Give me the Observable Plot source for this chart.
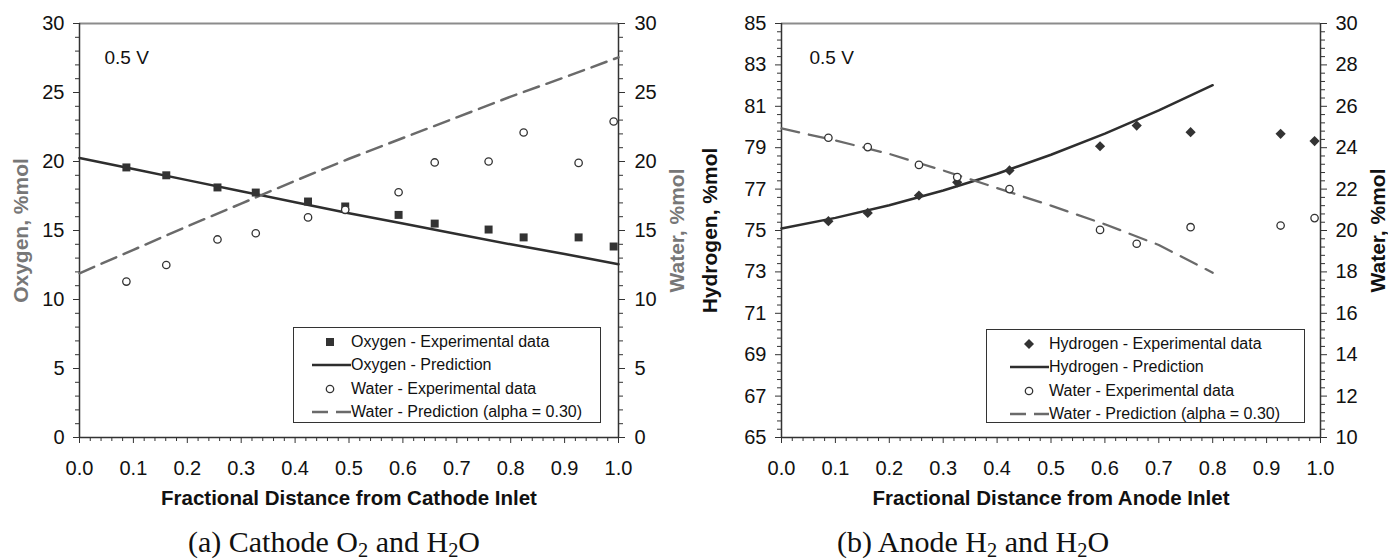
<!DOCTYPE html>
<html><head><meta charset="utf-8">
<script src="https://cdn.jsdelivr.net/npm/d3@7"></script>
<script src="https://cdn.jsdelivr.net/npm/@observablehq/plot@0.6"></script>
<style>
body{margin:0;background:#fff;width:1388px;height:560px;position:relative;overflow:hidden;font-family:"Liberation Sans",Arial,sans-serif}
.panel{position:absolute;top:0}
.caption{position:absolute;font-family:"Liberation Serif","Times New Roman",serif;font-size:30px;line-height:30px;color:#111;white-space:nowrap}
.caption sub{font-size:68%;vertical-align:-0.25em;line-height:0}
.legend{position:absolute;border:1.5px solid #333;background:#fff;box-sizing:border-box}
.legend .row{position:absolute;left:0;height:22px;width:100%}
.legend .row svg{position:absolute;left:0;top:0}
.legend .row span{position:absolute;font-size:16px;line-height:22px;color:#111;white-space:nowrap}
</style></head>
<body>
<div id="a" class="panel" style="left:0"></div>
<div id="b" class="panel" style="left:694px"></div>
<div class="caption" style="left:188px;top:527px">(a) Cathode O<sub>2</sub> and H<sub>2</sub>O</div>
<div class="caption" style="left:837px;top:527px">(b) Anode H<sub>2</sub> and H<sub>2</sub>O</div>
<script>
// ---------- Panel (a) data: Cathode ----------
const xExpA = [0.087, 0.161, 0.256, 0.327, 0.424, 0.493, 0.592, 0.659, 0.759, 0.824, 0.926, 0.991];
const oxygenExp = [19.57, 19.0, 18.12, 17.75, 17.1, 16.74, 16.13, 15.5, 15.07, 14.5, 14.5, 13.84];
const waterExpA = [11.3, 12.5, 14.35, 14.8, 15.95, 16.5, 17.77, 19.93, 20.0, 22.1, 19.9, 22.9];
const xPredA = [0, 0.1, 0.2, 0.3, 0.4, 0.5, 0.6, 0.7, 0.8, 0.9, 1.0];
const oxygenPred = [20.25, 19.45, 18.65, 17.85, 17.05, 16.25, 15.5, 14.75, 14.0, 13.3, 12.55];
const waterPredA = [11.9, 13.6, 15.3, 16.95, 18.6, 20.2, 21.7, 23.2, 24.7, 26.1, 27.55];

// ---------- Panel (b) data: Anode ----------
const xExpB = [0.087, 0.160, 0.255, 0.326, 0.423, 0.591, 0.659, 0.759, 0.926, 0.989];
const hydrogenExp = [75.45, 75.85, 76.69, 77.33, 77.9, 79.07, 80.07, 79.75, 79.67, 79.32];
const waterExpB = [24.48, 24.03, 23.17, 22.58, 22.0, 20.03, 19.36, 20.16, 20.24, 20.6];
const xPredB = [0, 0.1, 0.2, 0.3, 0.4, 0.5, 0.6, 0.7, 0.8];
const hydrogenPred = [75.1, 75.61, 76.22, 76.93, 77.74, 78.66, 79.68, 80.8, 82.02];
const waterPredB = [24.93, 24.35, 23.7, 22.9, 22.05, 21.2, 20.3, 19.3, 17.96];

// ---------- Tick labels ----------
const xTicks = [0, 0.1, 0.2, 0.3, 0.4, 0.5, 0.6, 0.7, 0.8, 0.9, 1.0];
const yTicksA = [0, 5, 10, 15, 20, 25, 30];
const yLeftTicksB = [65, 67, 69, 71, 73, 75, 77, 79, 81, 83, 85];
const yRightTicksB = [10, 12, 14, 16, 18, 20, 22, 24, 26, 28, 30];
const waterOffsetB = 55; // right axis 10–30 maps onto left axis 65–85

const legendA = ["Oxygen - Experimental data", "Oxygen - Prediction", "Water - Experimental data", "Water - Prediction (alpha = 0.30)"];
const legendB = ["Hydrogen - Experimental data", "Hydrogen - Prediction", "Water - Experimental data", "Water - Prediction (alpha = 0.30)"];

function minor(from, to, step, majors) {
  return d3.range(from, to + step / 2, step).filter(v => !majors.some(m => Math.abs(m - v) < 1e-6));
}
const xMinor = minor(0, 1, 0.02, xTicks);

const DARK = "#2e2e2e", GREY = "#6a6a6a", AXIS = "#333";
const TICKFONT = 20;
const style = {fontFamily: "'Liberation Sans', Arial, sans-serif", fontSize: "20px", color: "#111", background: "#fff", overflow: "visible"};

function frameMarks(yMin, yMax) {
  return [
    Plot.ruleY([yMax], {stroke: "#8c8c8c", strokeWidth: 2}),
    Plot.ruleX([0], {stroke: AXIS, strokeWidth: 1.5}),
    Plot.ruleX([1], {stroke: AXIS, strokeWidth: 1.5}),
    Plot.ruleY([yMin], {stroke: AXIS, strokeWidth: 1.5}),
    Plot.axisX({ticks: xTicks, tickSize: 6, tickPadding: 17, tickFormat: d => d.toFixed(1), label: null, stroke: AXIS, fontSize: TICKFONT}),
    Plot.axisX({ticks: xMinor, tickSize: 4, tickFormat: () => "", label: null, stroke: AXIS})
  ];
}

// ---------- Panel (a) ----------
const expA = xExpA.map((x, i) => ({x, o: oxygenExp[i], w: waterExpA[i]}));
const predA = xPredA.map((x, i) => ({x, o: oxygenPred[i], w: waterPredA[i]}));
const yMinorA = minor(0, 30, 1, yTicksA);

const plotA = Plot.plot({
  width: 694, height: 520,
  marginLeft: 79, marginRight: 76, marginTop: 23, marginBottom: 83,
  x: {domain: [0, 1]},
  y: {domain: [0, 30]},
  style,
  marks: [
    ...frameMarks(0, 30),
    Plot.axisY({anchor: "left", ticks: yTicksA, tickSize: 6, tickPadding: 9, label: null, stroke: AXIS, fontSize: TICKFONT}),
    Plot.axisY({anchor: "left", ticks: yMinorA, tickSize: 4, tickFormat: () => "", label: null, stroke: AXIS}),
    Plot.axisY({anchor: "right", ticks: yTicksA, tickSize: 6, tickPadding: 10, label: null, stroke: AXIS, fontSize: TICKFONT}),
    Plot.axisY({anchor: "right", ticks: yMinorA, tickSize: 4, tickFormat: () => "", label: null, stroke: AXIS}),
    Plot.line(predA, {x: "x", y: "o", stroke: DARK, strokeWidth: 2.5}),
    Plot.line(predA, {x: "x", y: "w", stroke: GREY, strokeWidth: 2.5, strokeDasharray: "16,8"}),
    Plot.dot(expA, {x: "x", y: "o", symbol: "square", fill: "#333", r: 4.5}),
    Plot.dot(expA, {x: "x", y: "w", symbol: "circle", fill: "#fff", stroke: "#333", strokeWidth: 1.3, r: 3.7}),
    Plot.text(["0.5 V"], {text: d => d, frameAnchor: "top-left", dx: 25, dy: 27, fontSize: 19, fill: "#111"}),
    Plot.text(["Oxygen, %mol"], {text: d => d, frameAnchor: "left", textAnchor: "middle", dx: -58, rotate: -90, fontSize: 21, fontWeight: "bold", fill: "#777"}),
    Plot.text(["Water, %mol"], {text: d => d, frameAnchor: "right", textAnchor: "middle", dx: 59, rotate: -90, fontSize: 21, fontWeight: "bold", fill: "#777"}),
    Plot.text(["Fractional Distance from Cathode Inlet"], {text: d => d, frameAnchor: "bottom", dy: 67, fontSize: 20.5, fontWeight: "bold", fill: "#111"})
  ]
});
document.getElementById("a").append(plotA);

// ---------- Panel (b) ----------
const expB = xExpB.map((x, i) => ({x, h: hydrogenExp[i], w: waterExpB[i]}));
const predB = xPredB.map((x, i) => ({x, h: hydrogenPred[i], w: waterPredB[i]}));
const yMinorB = minor(65, 85, 0.4, yLeftTicksB);

const plotB = Plot.plot({
  width: 694, height: 520,
  marginLeft: 87, marginRight: 68, marginTop: 23, marginBottom: 83,
  x: {domain: [0, 1]},
  y: {domain: [65, 85]},
  style,
  marks: [
    ...frameMarks(65, 85),
    Plot.axisY({anchor: "left", ticks: yLeftTicksB, tickSize: 6, tickPadding: 9, label: null, stroke: AXIS, fontSize: TICKFONT}),
    Plot.axisY({anchor: "left", ticks: yMinorB, tickSize: 4, tickFormat: () => "", label: null, stroke: AXIS}),
    Plot.axisY({anchor: "right", ticks: yRightTicksB.map(v => v + waterOffsetB), tickFormat: d => Math.round(d - waterOffsetB), tickSize: 6, tickPadding: 9, label: null, stroke: AXIS, fontSize: TICKFONT}),
    Plot.axisY({anchor: "right", ticks: yMinorB, tickSize: 4, tickFormat: () => "", label: null, stroke: AXIS}),
    Plot.line(predB, {x: "x", y: "h", stroke: DARK, strokeWidth: 2.5}),
    Plot.line(predB, {x: "x", y: d => d.w + waterOffsetB, stroke: GREY, strokeWidth: 2.3, strokeDasharray: "18,10"}),
    Plot.dot(expB, {x: "x", y: "h", symbol: "diamond2", fill: "#333", r: 4.6}),
    Plot.dot(expB, {x: "x", y: d => d.w + waterOffsetB, symbol: "circle", fill: "#fff", stroke: "#333", strokeWidth: 1.3, r: 3.7}),
    Plot.text(["0.5 V"], {text: d => d, frameAnchor: "top-left", dx: 28, dy: 27, fontSize: 19, fill: "#111"}),
    Plot.text(["Hydrogen, %mol"], {text: d => d, frameAnchor: "left", textAnchor: "middle", dx: -71, rotate: -90, fontSize: 21, fontWeight: "bold", fill: "#111"}),
    Plot.text(["Water, %mol"], {text: d => d, frameAnchor: "right", textAnchor: "middle", dx: 58, rotate: -90, fontSize: 21, fontWeight: "bold", fill: "#111"}),
    Plot.text(["Fractional Distance from Anode Inlet"], {text: d => d, frameAnchor: "bottom", dy: 67, fontSize: 20.5, fontWeight: "bold", fill: "#111"})
  ]
});
document.getElementById("b").append(plotB);

// ---------- Legends (HTML overlays inside plot areas) ----------
function makeLegend(labels, markerSym, box) {
  const div = document.createElement("div");
  div.className = "legend";
  Object.assign(div.style, {left: box.left + "px", top: box.top + "px", width: box.width + "px", height: box.height + "px"});
  const rowsY = [3, 26, 50, 73];
  labels.forEach((lab, i) => {
    const row = document.createElement("div");
    row.className = "row";
    row.style.top = rowsY[i] + "px";
    let svg = `<svg width="${box.textX}" height="22">`;
    if (i === 0) {
      if (markerSym === "square") svg += `<rect x="${box.markX - 4}" y="7" width="8" height="8" fill="#333"/>`;
      else svg += `<path d="M${box.markX},6 L${box.markX + 5},11 L${box.markX},16 L${box.markX - 5},11Z" fill="#333"/>`;
    } else if (i === 1) {
      svg += `<line x1="${box.lineX0}" x2="${box.lineX1}" y1="11" y2="11" stroke="${DARK}" stroke-width="2.5"/>`;
    } else if (i === 2) {
      svg += `<circle cx="${box.markX}" cy="11" r="3.7" fill="#fff" stroke="#333" stroke-width="1.3"/>`;
    } else {
      svg += `<line x1="${box.lineX0}" x2="${box.lineX1}" y1="11" y2="11" stroke="${GREY}" stroke-width="2.5" stroke-dasharray="16,8"/>`;
    }
    svg += `</svg>`;
    row.innerHTML = svg + `<span style="left:${box.textX}px">${lab}</span>`;
    div.append(row);
  });
  document.body.append(div);
}
makeLegend(legendA, "square", {left: 293, top: 327, width: 308, height: 96, markX: 36, lineX0: 18, lineX1: 57, textX: 57});
makeLegend(legendB, "diamond", {left: 986, top: 329, width: 319, height: 94, markX: 42, lineX0: 23, lineX1: 62, textX: 62});
</script>
</body></html>
